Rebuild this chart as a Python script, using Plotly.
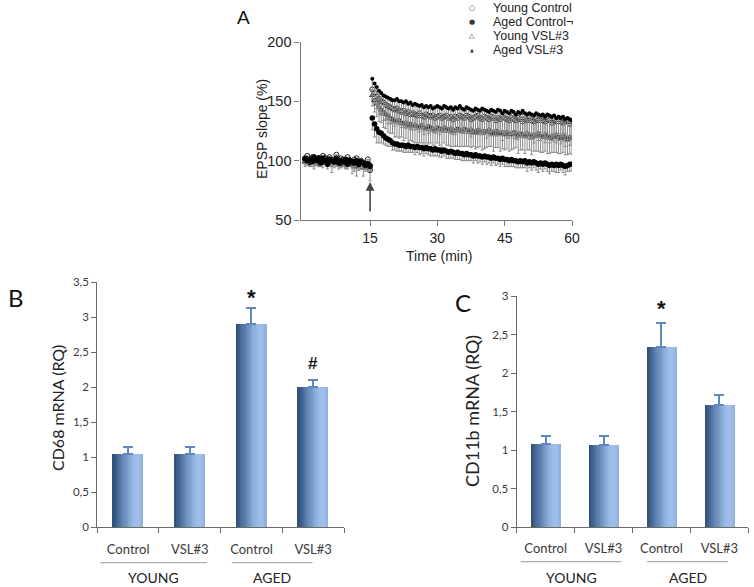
import plotly.graph_objects as go

# ---------------- DATA ----------------
# Panel A: LTP time course (every 0.5 min)
time_min = [round(0.5 * i, 1) for i in range(1, 121)]

young_control = [101,104,99,102,103,100,98,102,104,100,101,103,99,101,105,100,102,101,99,103,100,98,101,102,99,100,98,97,101,92,
                 160,157,154,152,150,149,147,146,145,144,
                 143,144,142,141,142,140,141,139,140,139,
                 138,140,138,137,139,138,137,138,136,137,
                 138,136,137,138,136,137,135,137,136,138,
                 137,136,138,137,135,136,137,138,136,135,
                 137,136,135,137,136,134,136,135,137,136,
                 135,134,136,135,134,136,135,133,135,134,
                 136,134,133,135,134,136,134,133,135,134,
                 132,134,133,135,133,132,134,133,131,133]
young_control_err = [3,4,3,5,3,4,3,4,5,3,4,3,9,4,3,4,5,3,4,3,4,9,8,4,3,4,5,4,3,9,
                     8,9,10,9,11,10,12,11,10,12,
                     11,12,10,13,11,12,10,13,12,11,
                     12,13,11,12,10,13,12,11,12,13,
                     11,12,13,10,12,11,13,12,11,12,
                     13,11,12,10,13,12,11,12,13,11,
                     12,13,11,12,10,13,12,11,12,13,
                     11,12,13,12,11,12,13,11,12,12,
                     13,11,12,13,11,12,12,13,11,12,
                     12,13,11,12,13,12,11,12,13,12]

young_vsl3 = [99,101,100,103,98,100,102,99,101,103,100,98,101,100,99,102,98,100,97,99,101,98,96,95,99,97,94,98,96,97,
              155,151,148,145,143,141,139,138,136,135,
              134,133,134,132,131,132,130,131,129,130,
              129,128,130,128,127,129,128,127,126,128,
              127,126,128,127,125,127,126,125,127,126,
              125,127,126,124,126,125,124,126,125,123,
              125,124,126,124,123,125,124,123,124,122,
              124,123,122,124,123,121,123,122,121,123,
              122,120,122,121,123,121,120,122,121,119,
              121,120,122,120,119,121,120,118,120,119]
young_vsl3_err = [4,3,4,3,5,4,3,4,3,4,5,3,4,3,4,3,4,5,3,4,3,4,5,8,4,3,7,4,3,4,
                  9,10,11,12,11,13,12,14,13,12,
                  14,13,15,12,14,13,15,14,13,15,
                  14,13,15,14,12,15,13,14,15,13,
                  14,15,13,14,12,15,14,13,15,14,
                  13,15,14,12,15,13,14,15,13,14,
                  15,13,14,12,15,14,13,15,14,13,
                  14,15,13,14,12,15,14,13,15,14,
                  13,15,14,13,15,14,13,14,15,13,
                  14,13,15,14,13,14,15,13,14,14]

aged_control = [102,100,101,99,103,101,100,98,102,100,97,101,100,99,102,98,100,99,101,97,100,99,98,100,97,99,98,96,97,95,
                136,131,127,124,123,121,119,118,117,115,
                114,114,113,113,113,112,113,112,112,111,
                112,111,111,110,111,110,110,109,110,109,
                109,108,109,108,107,108,107,106,107,106,
                106,105,106,105,105,104,105,104,104,103,
                104,103,103,102,103,102,102,101,102,101,
                101,100,101,100,100,99,100,99,100,98,
                99,98,99,98,97,98,97,98,97,96,
                97,96,97,96,97,96,95,96,97,97]
aged_control_err = [3,4,3,4,3,4,5,3,4,3,4,3,4,3,4,5,3,4,3,4,3,4,3,4,5,3,4,3,4,4,
                    10,11,12,9,8,7,6,6,5,6,
                    5,6,5,5,6,5,6,5,5,6,
                    5,6,5,6,5,5,6,5,6,5,
                    6,5,5,6,5,6,5,5,6,5,
                    6,5,6,5,5,6,5,6,5,6,
                    5,6,5,6,5,6,5,6,5,6,
                    6,5,6,5,6,5,6,5,6,7,
                    5,6,5,6,7,5,6,5,6,7,
                    6,5,7,6,5,6,7,5,6,5]

aged_vsl3 = [100,102,98,101,100,99,103,100,98,101,99,102,100,98,101,99,97,100,98,101,99,97,100,98,96,99,97,95,98,96,
             169,165,162,159,157,155,154,153,152,151,
             151,152,150,150,149,150,148,149,147,148,
             147,146,147,145,146,145,146,144,145,146,
             145,144,146,145,144,145,143,145,144,146,
             144,143,145,144,143,142,144,143,142,144,
             143,142,141,143,142,141,143,142,140,142,
             141,140,142,141,139,141,140,142,140,139,
             140,139,138,140,139,138,139,137,139,138,
             137,138,136,137,136,137,135,136,135,134]
aged_vsl3_err = [3,4,3,4,5,3,4,3,4,3,4,3,5,4,3,4,3,4,5,3,4,3,4,3,4,5,3,4,3,4,
                 14,16,18,20,19,21,20,22,21,20,
                 22,21,20,22,21,23,20,22,21,22,
                 20,22,21,23,20,22,21,20,22,21,
                 23,20,22,21,20,22,21,23,20,22,
                 21,20,22,21,23,20,22,21,20,22,
                 21,23,20,22,21,20,22,21,23,20,
                 22,21,20,22,21,23,20,22,21,20,
                 22,21,23,20,22,21,20,22,21,23,
                 20,22,21,20,22,21,23,20,22,21]

series_names = ["Young Control", "Aged Control\u00ac", "Young VSL#3", "Aged VSL#3"]

a_xticks = [15, 30, 45, 60]
a_yticks = [50, 100, 150, 200]

# Panels B and C
categories = ["Control", "VSL#3", "Control", "VSL#3"]
groups = ["YOUNG", "AGED"]
cd68_mean = [1.04, 1.04, 2.90, 2.00]
cd68_sem = [0.10, 0.10, 0.23, 0.10]
cd11b_mean = [1.08, 1.07, 2.34, 1.59]
cd11b_sem = [0.11, 0.11, 0.31, 0.12]

# ---------------- LAYOUT HELPERS ----------------
W, H = 754, 587
def px(x):
    return x / W
def py(y):
    return 1 - y / H

fig = go.Figure()

ERR_GRAY = "#8a8a8a"
a_specs = [
    (young_vsl3, young_vsl3_err, dict(symbol="triangle-up-open", size=5, color="#222", line=dict(width=1, color="#222"))),
    (young_control, young_control_err, dict(symbol="circle-open", size=5, color="#222", line=dict(width=1, color="#222"))),
    (aged_vsl3, aged_vsl3_err, dict(symbol="circle", size=4, color="#000")),
    (aged_control, aged_control_err, dict(symbol="circle", size=5.5, color="#000")),
]
a_names = [series_names[2], series_names[0], series_names[3], series_names[1]]
for (vals, errs, mk), nm in zip(a_specs, a_names):
    fig.add_trace(go.Scatter(
        x=time_min, y=vals, mode="markers", name=nm, marker=mk,
        error_y=dict(type="data", symmetric=False, array=[0] * len(errs), arrayminus=errs,
                     color=ERR_GRAY, thickness=1, width=1.5),
        xaxis="x", yaxis="y", showlegend=False))

stripe_colors = ["#34537b", "#3d5e88", "#486a96", "#5476a4", "#6082b1", "#6c8ebd",
                 "#789ac8", "#84a6d2", "#8eb0db", "#96b8e3", "#9bbde8", "#9dbfe9",
                 "#99bbe5", "#90b2dd"]
ERR_BLUE = "#5f88c2"

def add_bars(means, sems, xa, ya, total_w):
    n = len(stripe_colors)
    sw = total_w / n
    xs = list(range(len(means)))
    for i, c in enumerate(stripe_colors):
        fig.add_trace(go.Bar(
            x=xs, y=means, width=sw * 1.08, offset=-total_w / 2 + i * sw,
            marker=dict(color=c, line=dict(width=0)),
            xaxis=xa, yaxis=ya, showlegend=False, hoverinfo="skip"))
    fig.add_trace(go.Bar(
        x=xs, y=means, width=total_w, marker=dict(color="rgba(0,0,0,0)", line=dict(width=0)),
        error_y=dict(type="data", symmetric=False, array=sems, arrayminus=[0] * len(sems),
                     color=ERR_BLUE, thickness=2, width=5),
        xaxis=xa, yaxis=ya, showlegend=False))

add_bars(cd68_mean, cd68_sem, "x2", "y2", 0.5)
add_bars(cd11b_mean, cd11b_sem, "x3", "y3", 0.52)

AX_A = "#7a7a7a"
TXT = "#222222"
FA = "Liberation Sans, Arial, sans-serif"
FB = "Lato, Open Sans, sans-serif"
BAR_AX = "#6a6a6a"
BAR_TXT = "#3a3a3a"

layout = dict(
    width=W, height=H, autosize=False,
    margin=dict(l=0, r=0, t=0, b=0, pad=0, autoexpand=False),
    paper_bgcolor="white", plot_bgcolor="white",
    separators=", ", barmode="overlay", bargap=0,
    showlegend=False,
    xaxis=dict(domain=[px(300.5), px(572)], range=[-0.5, 60], anchor="y", automargin=False,
               tickmode="array", tickvals=a_xticks, ticks="outside", ticklen=5,
               tickcolor=AX_A, showline=True, linecolor=AX_A, linewidth=1.2,
               showgrid=False, zeroline=False,
               tickfont=dict(family=FA, size=14, color=TXT)),
    yaxis=dict(domain=[py(220), py(42)], range=[50, 200], anchor="x", automargin=False,
               tickmode="array", tickvals=a_yticks, ticks="outside", ticklen=5,
               tickcolor=AX_A, showline=True, linecolor=AX_A, linewidth=1.2,
               showgrid=False, zeroline=False,
               tickfont=dict(family=FA, size=14.5, color=TXT)),
    xaxis2=dict(domain=[px(97.3), px(344)], range=[-0.5, 3.5], anchor="y2", automargin=False,
                tickmode="array", tickvals=[0, 1, 2, 3], ticktext=categories, ticks="",
                ticklabelstandoff=10,
                minor=dict(tickmode="linear", tick0=-0.5, dtick=1, ticks="outside",
                           ticklen=5, tickcolor=BAR_AX, tickwidth=1.2),
                showline=True, linecolor=BAR_AX, linewidth=1.2, showgrid=False, zeroline=False,
                tickfont=dict(family=FB, size=13, color=BAR_TXT)),
    yaxis2=dict(domain=[py(527.3), py(282.3)], range=[0, 3.5], anchor="x2", automargin=False,
                dtick=0.5, ticks="outside", ticklen=5, tickcolor=BAR_AX,
                showline=True, linecolor=BAR_AX, linewidth=1.2, showgrid=False, zeroline=False,
                tickfont=dict(family=FB, size=11.5, color=BAR_TXT)),
    xaxis3=dict(domain=[px(516.7), px(748.3)], range=[-0.5, 3.5], anchor="y3", automargin=False,
                tickmode="array", tickvals=[0, 1, 2, 3], ticktext=categories, ticks="",
                ticklabelstandoff=9,
                minor=dict(tickmode="linear", tick0=-0.5, dtick=1, ticks="outside",
                           ticklen=5, tickcolor=BAR_AX, tickwidth=1.2),
                showline=True, linecolor=BAR_AX, linewidth=1.2, showgrid=False, zeroline=False,
                tickfont=dict(family=FB, size=13, color=BAR_TXT)),
    yaxis3=dict(domain=[py(527.3), py(296)], range=[0, 3], anchor="x3", automargin=False,
                dtick=0.5, ticks="outside", ticklen=5, tickcolor=BAR_AX,
                showline=True, linecolor=BAR_AX, linewidth=1.2, showgrid=False, zeroline=False,
                tickfont=dict(family=FB, size=11.5, color=BAR_TXT)),
)
fig.update_layout(**layout)

def pann(text, x, y, size, family, color="#222", angle=0, xanchor="center"):
    return dict(text=text, x=px(x), y=py(y), xref="paper", yref="paper", showarrow=False,
                xanchor=xanchor, yanchor="middle", textangle=angle,
                font=dict(family=family, size=size, color=color))

ann = []
ann.append(pann("A", 243, 17, 19, FA, "#111"))
ann.append(pann("B", 16, 298, 24, FB, "#111"))
ann.append(pann("C", 463, 302, 24, FB, "#111"))
ann.append(pann("EPSP slope (%)", 262, 129, 14, FA, TXT, -90))
ann.append(pann("Time (min)", 439, 256, 14, FA, TXT))
ann.append(pann("CD68 mRNA (RQ)", 57, 408, 16, FB, "#222", -90))
ann.append(pann("CD11b mRNA (RQ)", 472, 411, 18, FB, "#222", -90))

# Legend of panel A
leg_rows = [8, 22, 36, 50]
leg_syms = ["\u25CB", "\u25CF", "\u25B3", "\u25B2"]
leg_sizes = [7, 7, 7, 5]
for nm, yy, s, ss in zip(series_names, leg_rows, leg_syms, leg_sizes):
    ann.append(pann(s, 472, yy, ss, "DejaVu Sans", "#333"))
    ann.append(pann(nm, 491, yy, 12.5, FA, TXT, 0, "left"))

# Stimulation arrow at 15 min
ann.append(dict(x=15, y=82, ax=15, ay=56, xref="x", yref="y", axref="x", ayref="y",
                text="", showarrow=True, arrowhead=2, arrowsize=1.1, arrowwidth=1.6,
                arrowcolor="#444"))
# Significance marks
ann.append(dict(text="<b>*</b>", x=2, y=cd68_mean[2] + cd68_sem[2], xref="x2", yref="y2",
                showarrow=False, yshift=11, xanchor="center", yanchor="middle",
                font=dict(family=FA, size=22, color="#111")))
ann.append(dict(text="<b>#</b>", x=3, y=cd68_mean[3] + cd68_sem[3], xref="x2", yref="y2",
                showarrow=False, yshift=17, xanchor="center", yanchor="middle",
                font=dict(family=FA, size=17, color="#111")))
ann.append(dict(text="<b>*</b>", x=2, y=cd11b_mean[2] + cd11b_sem[2], xref="x3", yref="y3",
                showarrow=False, yshift=14, xanchor="center", yanchor="middle",
                font=dict(family=FA, size=22, color="#111")))

shapes = []
for xa, lines, ylab, yline in [("x2", [(-0.45, 1.28), (1.68, 2.99)], 577, 562.7),
                               ("x3", [(-0.43, 1.31), (1.75, 3.15)], 577, 561.7)]:
    for (x0, x1), g in zip(lines, groups):
        shapes.append(dict(type="line", xref=xa, yref="paper", x0=x0, x1=x1,
                           y0=py(yline), y1=py(yline), line=dict(color="#9a9a9a", width=1)))
        ann.append(dict(text=g, x=(x0 + x1) / 2, y=py(ylab), xref=xa, yref="paper",
                        showarrow=False, xanchor="center", yanchor="middle",
                        font=dict(family=FB, size=14, color="#222")))

fig.update_layout(annotations=ann, shapes=shapes)
# remove the browser's default 8px body margin so the 754x587 figure fills the window
fig.write_html("out.html",
               config={"displayModeBar": False},
               post_script="document.body.style.margin='0';document.body.style.overflow='hidden';")
